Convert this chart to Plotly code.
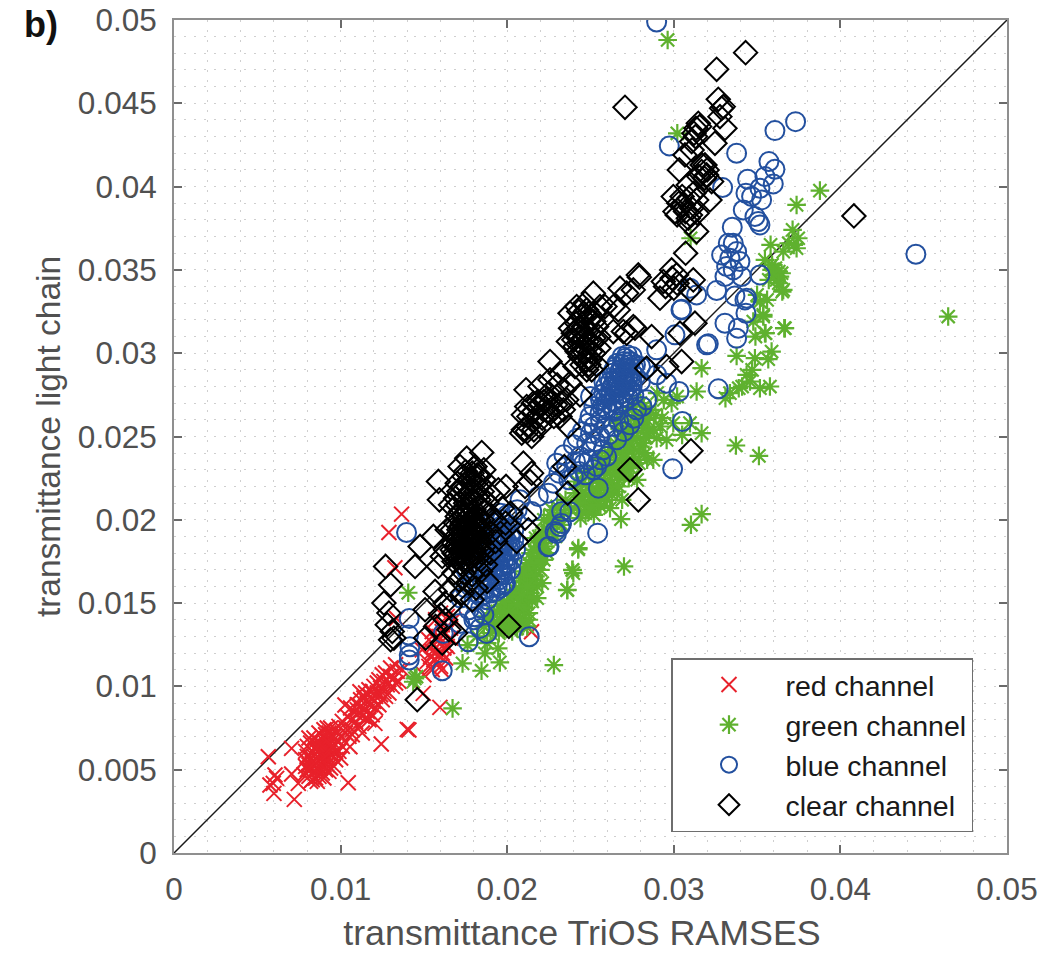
import plotly.graph_objects as go

SCALE = 1e-3

red_points = [
 (13.66,20.34),(12.9,19.24),(13.26,17.12),(5.66,5.78),(7.06,6.28),(6.06,4.68),(5.96,4.18),(6.0,3.58),(6.16,4.48),(5.76,4.08),
 (7.22,3.22),(7.06,4.74),(7.46,4.18),(10.46,4.22),(12.44,6.54),(14.0,7.42),(14.1,7.38),(15.96,8.74),(12.06,7.78),(10.56,6.38),
 (10.7,7.1),(11.16,9.68),(10.26,8.88),(21.46,13.28),(13.36,14.08),(16.06,10.98),(14.96,9.58),
 (8.1,4.6),(8.3,4.4),(8.5,4.5),(8.7,4.6),(8.9,4.8),(8.2,5.0),(8.4,4.9),(8.6,5.0),(8.8,5.1),(9.0,5.2),(9.2,5.3),(8.1,5.3),(8.3,5.4),
 (8.5,5.4),(8.7,5.5),(8.9,5.5),(9.1,5.6),(9.3,5.7),(9.5,5.9),(8.2,5.7),(8.4,5.8),(8.6,5.8),(8.8,5.9),(9.0,6.0),(9.2,6.1),(9.4,6.2),
 (9.6,6.4),(8.3,6.1),(8.5,6.2),(8.7,6.2),(8.9,6.3),(9.1,6.4),(9.3,6.5),(9.5,6.7),(8.6,6.5),(8.8,6.6),(9.0,6.7),(9.2,6.8),(9.4,7.0),
 (8.9,7.0),(9.1,7.1),(9.3,7.2),(9.6,7.0),(7.9,5.2),(7.8,4.7),(9.8,6.7),(9.9,6.1),(9.7,5.6),(8.0,5.8),(9.0,4.5),(9.4,5.1),
 (8.0,6.4),(8.2,6.6),(8.4,6.9),(8.7,7.2),(9.0,7.4),(9.4,7.5),(9.8,7.3),(10.0,7.0),(10.1,6.4),(10.0,5.7),(9.6,5.2),(9.3,4.9),(9.1,5.0),
 (8.6,4.3),(8.2,4.3),(7.9,5.6),(7.9,6.1),(8.1,6.9),(9.7,6.1),(9.3,6.0),(8.0,5.0),(9.5,6.4),(9.2,7.5),(10.3,7.5),(10.5,7.0),
 (10.4,8.2),(10.6,8.0),(10.8,8.5),(11.0,8.3),(11.2,8.8),(11.0,8.9),(11.4,8.6),(11.6,9.0),(11.4,9.3),(11.8,9.4),(12.0,9.1),(11.7,9.8),
 (12.2,9.6),(12.0,10.0),(12.4,9.9),(12.6,10.3),(12.3,10.4),(12.8,10.1),(13.0,10.6),(12.7,10.8),(13.2,10.5),(13.4,10.9),(12.1,8.7),
 (11.5,8.1),(11.9,8.3),(12.5,9.2),(12.9,9.6),(11.1,7.6),(10.7,7.4),(10.3,7.2),(9.9,7.6),(10.1,7.9),(13.7,11.0),(13.5,10.3),
 (10.9,7.9),(11.3,8.2),(11.2,9.2),(11.6,8.5),(11.8,8.9),(12.1,9.4),(12.4,9.5),(12.3,8.9),(12.6,9.7),(12.9,10.2),(13.1,10.0),(13.3,10.2),
 (12.2,10.2),(11.9,9.7),(11.5,9.6),(12.5,10.7),(13.0,11.1),(13.3,11.3),(12.7,9.4),(11.3,7.2),(11.0,8.6),(10.6,8.7),(11.7,8.0),
 (15.0,10.7),(15.3,11.2),(15.5,11.0),(15.8,11.5),(16.0,11.2),(15.4,11.8),(15.7,12.0),(16.1,12.0),(16.3,11.7),(15.6,12.5),(16.0,12.6),
 (16.4,12.4),(15.9,13.0),(16.3,13.2),(15.5,13.3),(16.6,13.5),(16.1,13.7),(15.7,14.0),(16.0,14.4),(16.4,14.2),(16.8,14.0),(15.2,11.5),
 (14.9,12.2),(15.3,12.8),(15.6,11.6),(15.9,11.9),(15.5,12.1),(16.2,12.3),(16.6,12.9),(15.8,12.7),(16.1,13.3),
]

green_sparse = [
 (29.63,48.8),(30.21,43.2),(31.01,36.9),(38.77,39.76),(37.37,38.9),(37.13,37.4),(37.47,36.9),(37.37,36.3),(35.81,36.5),(36.57,36.1),
 (35.47,35.6),(35.87,35.0),(36.47,34.8),(36.17,34.4),(36.51,33.7),(35.17,33.1),(35.37,32.2),(46.47,32.2),(36.63,31.5),(35.51,31.2),
 (34.77,31.9),(36.57,33.8),(36.37,34.6),(35.37,32.3),(36.67,31.5),(35.47,31.2),(35.87,30.1),(33.77,29.84),(34.87,29.7),(35.67,29.64),
 (34.37,28.7),(35.77,28.0),(35.17,27.9),(34.57,28.3),(33.37,27.6),(31.67,29.1),(31.37,27.7),(29.87,27.0),(29.97,25.8),(31.67,25.2),
 (30.97,25.8),(29.57,24.8),(33.73,24.46),(35.11,23.84),(31.67,20.34),(31.03,19.7),(27.01,17.2),(23.91,17.0),(23.97,16.8),(23.61,15.8),
 (24.27,18.3),(26.83,20.04),(26.17,20.7),(28.77,23.6),(28.97,24.9),(14.06,15.62),(22.8,11.28),(16.72,8.68),(14.46,10.48),(14.56,10.58),
 (14.36,10.28),(17.32,11.38),(18.46,10.94),(19.56,11.44),(19.46,12.28),(18.66,11.98),(17.62,12.48),(24.26,18.22),(23.92,16.98),(23.6,15.78),
 (35.9,35.3),(36.1,35.1),(36.3,34.9),(36.0,34.7),(35.7,34.4),(36.3,34.2),(36.9,36.6),(37.2,36.5),(35.6,33.2),(35.0,33.5),(34.9,31.0),
 (29.4,27.2),(28.9,26.3),(29.3,26.1),(30.5,25.1),(29.2,25.6),(29.0,27.6),(30.2,27.4),(33.1,27.3),(33.9,27.9),(34.1,28.0),(34.7,29.0),
]
green_ribbon_low = [
 (19.4,13.6),(19.8,13.4),(20.2,13.7),(20.6,13.5),(21.0,13.8),(19.6,14.0),(20.0,14.1),(20.4,14.2),(20.8,14.1),(21.1,14.4),(19.9,14.6),
 (20.3,14.7),(20.7,14.8),(21.2,15.0),(20.2,15.2),(20.6,15.3),(21.0,15.5),(21.4,15.6),(20.5,15.8),(20.9,16.0),(21.3,16.2),(21.6,16.4),
 (20.8,16.5),(21.2,16.8),(21.6,17.0),(21.1,17.2),(21.5,17.6),(21.9,17.8),(21.4,18.0),(21.8,18.4),(22.2,18.6),(21.7,18.9),(22.1,19.2),
 (22.5,19.6),(22.2,20.0),(22.6,20.3),(23.0,20.0),(23.4,20.4),(23.0,20.8),
 (19.1,14.0),(19.0,13.2),(21.3,14.4),(21.5,15.1),(21.8,16.0),(22.0,17.0),(22.4,18.0),(22.9,19.0),(18.2,13.0),(18.8,12.6),
 (19.5,13.2),(19.9,13.8),(20.3,13.3),(20.7,13.9),(21.2,13.6),(21.3,14.0),(20.0,14.9),(20.5,14.5),(21.0,14.7),(21.3,15.4),(20.8,15.2),
 (20.3,15.5),(20.7,15.9),(21.1,16.3),(21.5,16.0),(21.4,16.7),(21.0,16.9),(21.7,16.6),(21.3,17.4),(21.7,17.3),(21.6,18.2),(22.0,18.1),
 (22.3,18.9),(21.9,19.0),(22.4,19.4),(22.8,19.8),(23.2,20.3),(22.7,20.6),(18.6,13.6),(19.2,14.4),(19.6,14.8),(21.9,17.4),(23.3,19.7),
 (19.2,13.7),(19.7,13.9),(20.1,13.5),(20.5,13.9),(20.9,13.6),(19.4,14.5),(19.8,15.1),(20.1,14.4),(20.6,14.9),(20.9,15.6),(21.2,16.0),
 (22.2,17.6),(22.3,18.4),(21.8,15.3),(22.1,16.2),(19.0,13.9),(18.8,14.2),(19.3,13.4),
]
green_ribbon_high = [
 (24.4,20.1),(24.8,20.6),(25.2,20.3),(25.6,20.8),(26.0,21.2),(25.0,21.2),(25.4,21.6),(25.8,21.9),(26.2,22.2),(26.6,21.7),(25.4,22.4),
 (25.8,22.8),(26.2,23.1),(26.6,23.0),(27.0,22.6),(27.4,23.1),(26.0,23.6),(26.4,23.9),(26.8,24.0),(27.2,24.2),(27.6,23.8),(27.0,24.8),
 (27.4,25.0),(27.8,24.9),(28.0,24.4),(27.4,25.6),(27.8,25.7),(28.2,25.5),(28.0,26.2),(28.4,26.0),(28.6,26.6),(28.2,26.8),(28.8,25.4),
 (24.9,22.0),(24.4,21.4),(26.9,21.2),(27.8,22.4),(28.4,23.6),(28.2,24.6),
 (23.8,20.6),(24.2,20.8),(24.6,21.0),(25.0,20.8),(25.2,21.5),(25.6,21.3),(26.0,21.8),(26.3,21.5),(26.7,22.4),(27.1,23.2),(27.0,23.6),
 (27.5,24.4),(26.6,24.5),(26.2,24.4),(26.9,25.3),(27.7,26.3),(28.1,26.0),(28.5,25.2),(28.3,24.0),(27.9,23.4),(27.3,22.5),(26.3,22.7),
 (25.6,23.3),(25.0,22.7),(24.5,22.2),(24.1,21.6),(23.5,21.2),(26.6,25.8),(27.1,26.2),(27.5,26.8),(28.0,27.0),
 (24.7,20.4),(25.1,20.7),(25.5,20.9),(25.9,21.4),(26.3,21.9),(26.7,22.0),(27.1,22.9),(27.5,23.4),(27.9,24.1),(28.3,25.0),(24.3,21.0),
 (24.7,21.5),(25.1,21.8),(25.5,22.0),(25.9,22.3),(26.5,23.4),(26.9,23.7),(27.3,24.7),(27.6,25.3),(25.3,22.9),(25.7,23.7),(26.1,24.0),
 (26.8,24.6),(27.2,25.4),(28.5,26.3),(24.2,22.3),(24.6,22.8),
]

blue_sparse = [
 (28.97,49.88),(37.31,43.9),(36.07,43.36),(29.73,42.44),(33.77,42.0),(35.71,41.5),(36.07,41.04),(35.47,40.6),(35.97,40.16),(34.43,40.44),
 (32.93,39.94),(34.33,39.6),(35.17,39.9),(35.27,39.2),(34.67,39.4),(34.17,38.6),(34.87,38.2),(35.07,37.9),(35.17,37.7),(33.51,37.56),
 (33.57,36.6),(33.27,36.6),(32.87,35.9),(33.77,36.1),(33.37,35.7),(33.97,35.5),(33.17,35.2),(33.57,35.0),(33.07,34.6),(34.07,34.6),
 (35.17,34.7),(32.57,33.76),(33.67,33.44),(34.37,33.3),(34.27,33.2),(31.37,33.5),(30.97,33.9),(30.43,32.6),(34.33,32.4),(33.07,31.8),
 (33.87,31.5),(44.53,35.94),(32.07,30.56),(31.97,30.5),(30.07,31.1),(33.77,30.9),(30.47,32.64),(28.97,30.2),(28.27,29.1),(28.97,28.7),
 (29.57,28.2),(30.31,27.7),(32.67,27.86),(30.51,25.9),(29.93,23.06),(28.37,27.2),(27.77,26.6),(27.37,25.7),(26.57,24.8),(25.97,23.8),
 (25.47,21.9),(25.43,19.2),(25.17,23.0),(22.97,23.4),(22.77,22.2),(22.47,21.6),(23.27,20.5),(23.17,19.6),(22.87,19.3),(22.51,18.4),
 (23.97,24.5),(24.87,25.8),(24.97,26.2),(25.57,26.4),(24.77,24.6),(25.57,25.0),(26.37,25.6),(25.77,24.2),(24.37,23.8),(23.57,23.2),
 (23.97,22.6),(25.37,23.2),(26.37,26.6),(21.87,21.4),(20.77,21.2),(21.47,20.5),(13.96,19.24),(14.12,14.08),(14.08,13.08),(14.16,12.38),
 (14.12,11.88),(14.12,11.58),(16.1,10.94),(21.32,12.98),(17.66,12.68),(18.76,13.18),(18.36,13.48),(18.06,14.18),(17.16,13.78),(16.16,13.18),
 (22.46,18.38),(22.96,19.18),(23.26,19.78),(23.76,20.48),
 (24.2,24.9),(24.5,25.3),(25.1,24.4),(25.3,24.7),(24.1,23.5),(24.6,23.4),(24.9,23.6),(25.6,23.6),(23.4,23.9),(23.1,22.8),(23.7,22.4),
 (24.3,22.9),(24.7,22.7),(25.0,25.2),(25.9,25.5),(26.1,25.1),(26.7,25.9),(27.0,25.3),(27.6,26.1),(28.1,26.8),(25.2,25.6),(25.9,26.7),
]
blue_cluster_low = [
 (18.4,15.4),(18.8,15.2),(19.6,15.9),(19.9,16.7),(18.6,15.8),(19.0,15.9),(19.4,16.0),(19.8,16.1),(20.0,17.3),(18.5,16.4),
 (18.9,16.5),(19.3,16.6),(19.7,16.7),(20.1,17.8),(20.2,18.4),(18.7,17.0),(19.1,17.1),(19.5,17.2),(19.9,17.4),(20.2,19.1),(18.9,17.6),
 (19.3,17.8),(19.7,18.0),(20.1,18.2),(19.0,18.3),(19.4,18.5),(19.8,18.7),(20.2,18.9),(19.1,19.0),(19.5,19.3),(19.9,19.5),(19.3,19.8),
 (19.7,20.0),(20.0,20.3),
 (18.2,15.6),(18.6,15.5),(19.0,15.6),(19.3,15.7),(18.3,16.1),(18.7,16.2),(19.1,16.3),(19.5,16.4),(19.7,17.0),(18.4,16.8),(18.8,16.9),
 (19.2,16.9),(19.6,16.8),(19.8,17.6),(18.6,17.4),(19.0,17.4),(19.4,17.5),(19.6,17.7),(18.8,18.0),(19.2,18.1),(19.5,18.0),(19.9,18.1),
 (20.0,18.7),(18.9,18.7),(19.3,18.8),(19.7,18.6),(19.0,19.4),(19.4,19.1),(19.8,19.2),(20.1,19.7),(19.6,19.6),(19.2,20.1),(19.6,20.4),
 (20.3,20.2),(20.6,20.6),(18.0,16.6),(17.6,16.9),(17.4,17.2),(17.9,17.3),(18.2,17.7),(17.5,15.9),(17.8,16.0),(17.2,15.3),(18.0,15.1),
 (20.4,18.8),(20.3,17.6),(18.4,14.7),(17.7,14.6),(18.0,14.0),(18.6,14.3),(20.4,19.4),(20.5,18.2),(20.2,17.0),(19.9,16.2),
]
blue_cluster_high = [
 (25.6,27.2),(26.0,27.0),(26.4,27.1),(26.8,27.3),(25.8,27.6),(26.2,27.5),(26.6,27.7),(27.0,27.6),(27.4,27.8),(25.9,28.0),(26.3,28.0),
 (26.7,28.1),(27.1,28.2),(27.5,28.3),(26.1,28.5),(26.5,28.5),(26.9,28.6),(27.3,28.7),(27.7,28.6),(26.4,29.0),(26.8,29.0),(27.2,29.1),
 (27.6,29.1),(26.6,29.4),(27.0,29.5),(27.4,29.5),(26.9,29.8),(27.2,29.9),(25.2,26.8),(25.6,26.0),(25.0,27.4),
 (25.7,26.8),(26.0,26.6),(26.4,26.5),(26.7,26.9),(27.0,27.1),(27.3,27.3),(27.6,27.5),(25.6,27.5),(25.9,27.3),(26.2,27.8),(26.5,27.9),
 (26.8,27.9),(27.2,28.0),(27.5,28.0),(25.8,28.3),(26.2,28.3),(26.6,28.3),(27.0,28.4),(27.4,28.5),(26.3,28.8),(26.7,28.8),(27.1,28.9),
 (27.5,28.8),(26.5,29.2),(26.9,29.3),(27.3,29.3),(27.7,29.3),(27.1,29.7),(27.5,29.8),(28.0,28.3),(28.0,29.2),
]

clear_sparse = [
 (34.31,48.04),(32.57,47.04),(27.07,44.76),(32.67,45.24),(32.87,44.7),(32.97,44.8),(32.77,44.2),(33.07,43.5),(32.47,42.6),(31.47,43.8),
 (31.33,43.5),(31.21,43.2),(31.07,42.7),(30.67,41.9),(30.33,41.0),(30.87,40.1),(31.87,41.3),(31.67,40.9),(32.27,40.3),(31.97,40.7),
 (29.97,39.4),(30.07,38.5),(30.57,38.9),(30.87,38.1),(32.17,39.2),(31.37,39.2),(31.07,38.7),(31.37,37.3),(30.71,36.0),(29.87,35.0),
 (30.17,34.7),(27.87,34.7),(29.37,34.3),(29.17,33.3),(27.57,33.8),(27.17,33.6),(31.17,34.4),(30.97,33.8),(31.27,31.8),(28.67,31.0),
 (27.67,31.5),(27.17,31.2),(30.37,31.2),(40.81,38.24),(27.93,34.56),(26.77,33.9),(25.17,33.6),(26.37,32.8),(26.67,32.6),(27.57,31.6),
 (26.37,31.3),(26.97,31.3),(30.47,29.5),(29.57,29.2),(28.37,29.1),(22.57,29.5),(21.13,27.8),
 (20.97,23.4),(21.47,22.8),(21.37,22.3),(21.07,22.0),(23.43,23.2),(23.63,21.6),(27.37,23.0),(27.87,21.2),(31.03,24.14),(18.47,24.04),
 (19.93,22.0),(19.47,21.8),(15.87,22.3),(15.93,21.2),(17.57,23.7),(18.07,23.2),(17.17,23.2),(14.77,18.4),(15.57,19.0),(14.47,17.2),
 (21.27,19.4),(20.57,18.7),(21.07,20.1),(18.13,15.9),(15.87,17.2),(15.67,15.7),(15.07,14.6),(16.27,15.0),(16.57,14.8),
 (12.7,17.2),(13.0,16.1),(12.6,15.0),(12.9,14.4),(12.8,13.7),(13.2,12.9),(13.0,12.8),(13.1,13.3),(14.6,9.2),(16.5,13.4),(15.7,13.6),
 (15.1,12.9),(16.1,12.6),(16.9,13.2),(20.1,13.6),(17.9,15.2),(16.6,15.8),(16.3,14.0),(16.0,14.3),
 (31.3,43.0),(31.55,43.6),(31.1,42.2),(31.7,41.3),(32.0,41.0),(31.85,40.5),(31.5,40.6),(30.5,39.4),(30.9,39.3),(30.7,38.5),(31.0,38.3),
 (31.2,39.6),(30.3,39.0),(30.2,38.3),(30.9,37.8),(31.4,38.4),(29.9,34.5),(30.2,34.2),(30.0,33.9),(29.5,34.0),
]
clear_band_a = [
 (24.77,32.6),(24.47,32.2),(24.17,31.8),(24.97,32.0),(24.57,31.6),(23.97,31.2),(23.67,30.7),(24.37,31.0),(24.97,31.2),(25.37,31.6),
 (24.07,30.4),(24.57,30.4),(25.07,30.6),(24.37,29.8),(24.97,29.6),(25.37,29.3),(23.77,32.4),(24.17,32.8),(25.57,32.8),(25.87,32.8),
 (24.77,29.0),(25.07,29.0),(24.67,33.0),(25.27,32.4),(24.07,29.2),(25.0,30.1),(24.6,30.9),
 (24.3,32.5),(24.6,32.4),(24.9,32.4),(24.3,31.5),(24.8,31.3),(24.2,31.1),(24.4,30.6),(24.8,30.7),(24.2,30.1),(24.6,30.1),(24.7,29.6),
 (24.5,29.3),(24.9,29.3),(25.2,30.0),(25.2,30.9),(25.2,31.9),(24.0,30.8),(23.8,31.5),(25.5,31.0),(25.5,30.3),
]
clear_band_b = [
 (22.57,28.4),(23.17,28.8),(23.77,28.2),(24.37,27.5),(21.97,28.0),(21.57,27.0),(21.17,26.8),(22.37,27.2),(22.97,27.4),(23.57,27.2),
 (22.17,26.6),(21.77,26.2),(22.77,26.6),(23.37,26.6),(20.97,26.3),(20.97,25.4),(20.87,25.2),(21.47,25.0),(21.97,25.6),(23.17,26.2),
 (23.67,25.6),(21.27,25.6),(22.57,26.4),(21.87,27.1),
 (22.2,27.1),(22.6,27.0),(22.9,26.9),(23.2,27.0),(22.0,27.0),(22.4,26.5),(22.1,26.1),(22.8,26.2),(21.6,26.5),(21.3,26.2),(21.2,25.3),
 (21.6,25.4),(22.5,27.6),(23.4,27.8),(23.0,28.1),
]
clear_blob = [
 (16.8,17.5),(17.2,17.4),(17.6,17.6),(18.0,17.5),(18.4,17.6),(16.9,17.9),(17.3,17.8),(17.7,18.0),(18.1,17.9),(18.5,18.0),(16.7,18.2),
 (17.0,18.3),(17.4,18.2),(17.8,18.4),(18.2,18.3),(18.6,18.4),(16.8,18.6),(17.2,18.7),(17.6,18.6),(18.0,18.8),(18.4,18.7),(16.9,19.0),
 (17.3,19.1),(17.7,19.0),(18.1,19.2),(18.5,19.1),(16.7,19.4),(17.1,19.4),(17.5,19.5),(17.9,19.4),(18.3,19.6),(16.9,19.8),(17.3,19.8),
 (17.7,19.9),(18.1,19.8),(18.5,20.0),(17.0,20.2),(17.4,20.2),(17.8,20.3),(18.2,20.2),(18.6,20.5),
 (17.0,17.7),(17.4,17.6),(17.8,17.8),(18.2,17.7),(16.8,18.0),(17.2,18.1),(17.6,18.3),(18.0,18.2),(18.4,18.2),(17.0,18.5),(17.4,18.5),
 (17.8,18.7),(18.2,18.6),(17.0,18.9),(17.4,18.9),(17.8,19.1),(18.2,19.0),(17.2,19.3),(17.6,19.2),(18.0,19.3),(18.4,19.4),(17.2,19.6),
 (17.6,19.7),(18.0,19.6),(17.5,20.0),(17.9,20.1),(18.3,20.0),(17.2,20.5),(17.6,20.6),(18.0,20.6),(18.4,20.8),(17.5,21.0),(17.9,21.1),
 (18.3,21.2),(17.7,21.5),(18.1,21.7),(17.6,22.0),(18.0,22.3),(18.4,22.1),(17.4,22.6),(17.9,22.8),(18.3,22.6),(16.6,20.9),(16.9,21.3),
 (19.0,20.3),(19.3,19.9),(19.0,19.2),(19.6,19.2),(19.3,18.7),(19.0,18.0),(18.7,17.3),(18.4,16.9),(17.9,16.7),(17.4,16.8),(17.1,16.4),
 (17.7,16.2),(17.3,15.6),(16.8,16.8),(18.8,16.3),(19.9,19.8),(20.2,20.4),(19.7,20.7),(16.3,18.2),(16.4,19.4),(16.1,17.8),
 (17.1,21.7),(17.4,21.3),(17.8,21.7),(18.2,21.4),(18.5,21.7),(17.0,22.2),(17.3,22.0),(17.7,22.4),(18.2,22.7),(18.6,22.4),(17.5,22.9),
 (18.0,23.1),(18.6,23.0),(17.0,20.9),(18.8,21.0),(18.9,21.6),
]

ticks_x = [0, 0.01, 0.02, 0.03, 0.04, 0.05]
ticks_y = [0, 0.005, 0.01, 0.015, 0.02, 0.025, 0.03, 0.035, 0.04, 0.045, 0.05]
grid_x = [0.002, 0.004, 0.006, 0.008, 0.012, 0.014, 0.016, 0.018, 0.022, 0.024, 0.026, 0.028,
          0.032, 0.034, 0.036, 0.038, 0.042, 0.044, 0.046, 0.048]
grid_y = [0.001, 0.002, 0.003, 0.004, 0.006, 0.007, 0.008, 0.009, 0.011, 0.012, 0.013, 0.014,
          0.016, 0.017, 0.018, 0.019, 0.021, 0.022, 0.023, 0.024, 0.026, 0.027, 0.028, 0.029,
          0.031, 0.032, 0.033, 0.034, 0.036, 0.037, 0.038, 0.039, 0.041, 0.042, 0.043, 0.044,
          0.046, 0.047, 0.048, 0.049]
diag = [0, 0.05]


def xs(pts):
    return [p[0] * SCALE for p in pts]


def ys(pts):
    return [p[1] * SCALE for p in pts]


FONT = "Liberation Sans"
TICKCOL = "#505050"
GRIDCOL = "#cfcfcf"
AXCOL = "#8f8f8f"
DASH = "2px,8px"

fig = go.Figure()
fig.add_trace(go.Scatter(x=diag, y=diag, mode="lines", showlegend=False,
                         line=dict(color="#1a1a1a", width=1.5), hoverinfo="skip"))


def add(name, pts, symbol, color, size, lw=2):
    fig.add_trace(go.Scatter(x=xs(pts), y=ys(pts), mode="markers", name=name,
                             marker=dict(symbol=symbol, size=size, color=color,
                                         line=dict(color=color, width=lw))))


add("red channel", red_points, "x-thin-open", "#e8212b", 15)
add("green channel", green_sparse + green_ribbon_low + green_ribbon_high, "asterisk-open", "#5fb12f", 15.5, 2.2)
add("blue channel", blue_sparse + blue_cluster_low + blue_cluster_high, "circle-open", "#23509f", 19)
add("clear channel", clear_sparse + clear_band_a + clear_band_b + clear_blob, "diamond-open", "#000000", 18)

axis_common = dict(
    range=[0, 0.05], showline=True, linecolor=AXCOL, linewidth=2, mirror="ticks",
    ticks="inside", ticklen=8, tickcolor="#6a6a6a", tickwidth=1.5,
    tickfont=dict(family=FONT, size=31.5, color=TICKCOL),
    showgrid=True, gridcolor=GRIDCOL, griddash=DASH, gridwidth=1, zeroline=False,
)
fig.update_xaxes(**axis_common, tickmode="array", tickvals=ticks_x, ticktext=[f"{t:g}" for t in ticks_x],
                 ticklabelstandoff=7,
                 minor=dict(tickmode="array", tickvals=grid_x, ticks="", showgrid=True,
                            gridcolor=GRIDCOL, griddash=DASH, gridwidth=1),
                 title=dict(text="transmittance TriOS RAMSES\u00a0\u2009\u200b", standoff=15,
                            font=dict(family=FONT, size=35.8, color=TICKCOL)))
fig.update_yaxes(**axis_common, tickmode="array", tickvals=ticks_y, ticktext=[f"{t:g}" for t in ticks_y],
                 ticklabelstandoff=9,
                 minor=dict(tickmode="array", tickvals=grid_y, ticks="", showgrid=True,
                            gridcolor=GRIDCOL, griddash=DASH, gridwidth=1),
                 title=dict(text="transmittance light chain", standoff=7,
                            font=dict(family=FONT, size=33.5, color=TICKCOL)))

fig.update_layout(
    width=1058, height=953, margin=dict(l=174, r=51, t=20, b=100, autoexpand=False),
    paper_bgcolor="white", plot_bgcolor="white", font=dict(family=FONT),
    legend=dict(x=(671 - 174) / 833, y=(853 - 658) / 833, xref="paper", yref="paper",
                xanchor="left", yanchor="top",
                bgcolor="white", bordercolor="#6e6e6e", borderwidth=1.5,
                font=dict(family=FONT, size=28.5, color="#1a1a1a"), itemwidth=103,
                entrywidthmode="pixels", entrywidth=190),
    annotations=[dict(text="<b>b)</b>", x=(22 - 174) / 833, y=1 + (20 - 2) / 833, xref="paper", yref="paper",
                      showarrow=False, xanchor="left", yanchor="top",
                      font=dict(family=FONT, size=36, color="#111111"))],
)

fig.write_html("out.html", post_script="document.body.style.margin='0';",
               config=dict(displayModeBar=False))
